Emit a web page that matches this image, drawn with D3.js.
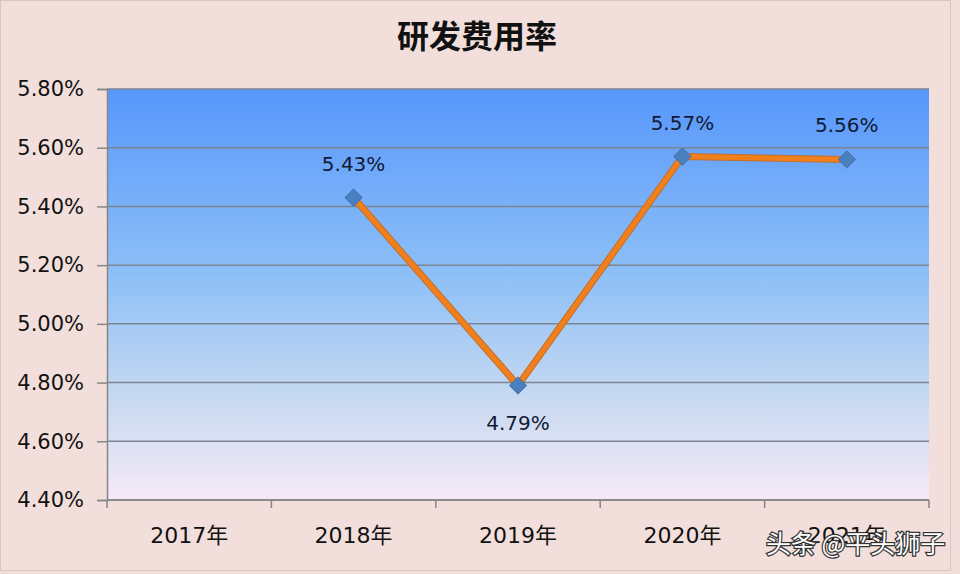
<!DOCTYPE html>
<html>
<head>
<meta charset="utf-8">
<script src="https://cdn.jsdelivr.net/npm/d3@7"></script>
<style>
  body { margin: 0; background: #f2dfdb; }
  svg { display: block; }
</style>
</head>
<body>
<svg id="chart"></svg>
<script>
const years = ['2017年', '2018年', '2019年', '2020年', '2021年'];
const rates = [null, 5.43, 4.79, 5.57, 5.56];
const labels = ['', '5.43%', '4.79%', '5.57%', '5.56%'];
const yTicks = [4.4, 4.6, 4.8, 5.0, 5.2, 5.4, 5.6, 5.8];

const width = 960;
const height = 574;
const margin = {top: 89, right: 31, bottom: 74, left: 107};
const innerW = width - margin.left - margin.right;
const innerH = height - margin.top - margin.bottom;

const svg = d3.select('#chart')
  .attr('width', width)
  .attr('height', height);

// outer background + frame
svg.append('rect')
  .attr('width', width).attr('height', height)
  .attr('fill', '#f2dfdb');
svg.append('rect')
  .attr('x', 0.5).attr('y', 0.5)
  .attr('width', 950).attr('height', 570)
  .attr('fill', 'none')
  .attr('stroke', '#d9c6c3');

const defs = svg.append('defs');
const grad = defs.append('linearGradient')
  .attr('id', 'plotbg')
  .attr('x1', 0).attr('y1', 0).attr('x2', 0).attr('y2', 1);
grad.append('stop').attr('offset', '0%').attr('stop-color', '#5797fc');
grad.append('stop').attr('offset', '45%').attr('stop-color', '#8dbff7');
grad.append('stop').attr('offset', '75%').attr('stop-color', '#c6d9f1');
grad.append('stop').attr('offset', '100%').attr('stop-color', '#f6e9f7');

const x = d3.scaleBand()
  .domain(years)
  .range([0, innerW]);

const y = d3.scaleLinear()
  .domain([4.4, 5.8])
  .range([innerH, 0]);

const g = svg.append('g')
  .attr('transform', 'translate(' + margin.left + ',' + margin.top + ')');

g.append('rect')
  .attr('width', innerW).attr('height', innerH)
  .attr('fill', 'url(#plotbg)');

// gridlines
g.append('g')
  .selectAll('line')
  .data(yTicks)
  .join('line')
  .attr('x1', 0).attr('x2', innerW)
  .attr('y1', d => y(d)).attr('y2', d => y(d))
  .attr('stroke', '#7d8591')
  .attr('stroke-width', 1.5);

// y axis
const yAxis = d3.axisLeft(y)
  .tickValues(yTicks)
  .tickSize(10)
  .tickPadding(13)
  .tickFormat(d => d.toFixed(2) + '%');

const yg = g.append('g').call(yAxis);
yg.select('.domain').attr('stroke', '#868686').attr('stroke-width', 1.5);
yg.selectAll('.tick line').attr('stroke', '#868686').attr('stroke-width', 1.5);
yg.selectAll('.tick text')
  .attr('fill', '#111')
  .style('font-family', '"DejaVu Sans", "Noto Sans CJK SC", sans-serif')
  .style('font-size', '21px');

// x axis: ticks at band boundaries
const bounds = years.map(d => x(d)).concat([innerW]);
const xg = g.append('g').attr('transform', 'translate(0,' + innerH + ')');
xg.append('line')
  .attr('x1', 0).attr('x2', innerW)
  .attr('stroke', '#868686').attr('stroke-width', 1.5);
xg.selectAll('.xt')
  .data(bounds)
  .join('line')
  .attr('class', 'xt')
  .attr('x1', d => d).attr('x2', d => d)
  .attr('y1', 0).attr('y2', 8)
  .attr('stroke', '#868686').attr('stroke-width', 1.5);
xg.selectAll('text')
  .data(years)
  .join('text')
  .attr('x', d => x(d) + x.bandwidth() / 2)
  .attr('y', 43)
  .attr('text-anchor', 'middle')
  .attr('fill', '#111')
  .style('font-family', '"DejaVu Sans", "Noto Sans CJK SC", sans-serif')
  .style('font-size', '22px')
  .text(d => d);

// series
const pts = years.map((d, i) => ({year: d, value: rates[i], label: labels[i]}))
  .filter(d => d.value !== null);

const line = d3.line()
  .x(d => x(d.year) + x.bandwidth() / 2)
  .y(d => y(d.value));

g.append('path')
  .datum(pts)
  .attr('fill', 'none')
  .attr('stroke', '#c0702e')
  .attr('stroke-width', 7)
  .attr('stroke-linejoin', 'round')
  .attr('d', line);
g.append('path')
  .datum(pts)
  .attr('fill', 'none')
  .attr('stroke', '#f07f1c')
  .attr('stroke-width', 5)
  .attr('stroke-linejoin', 'round')
  .attr('d', line);

g.selectAll('.marker')
  .data(pts)
  .join('path')
  .attr('class', 'marker')
  .attr('transform', d => 'translate(' + (x(d.year) + x.bandwidth() / 2) + ',' + y(d.value) + ')')
  .attr('d', d3.symbol().type(d3.symbolDiamond2).size(190))
  .attr('fill', '#4a80c0')
  .attr('stroke', '#3f6fa8')
  .attr('stroke-width', 1);

g.selectAll('.lbl')
  .data(pts)
  .join('text')
  .attr('class', 'lbl')
  .attr('x', d => x(d.year) + x.bandwidth() / 2)
  .attr('y', d => d.year === '2019年' ? y(d.value) + 44 : y(d.value) - 27)
  .attr('text-anchor', 'middle')
  .attr('fill', '#111a33')
  .style('font-family', '"DejaVu Sans", sans-serif')
  .style('font-size', '20px')
  .text(d => d.label);

// title
svg.append('text')
  .attr('x', 477)
  .attr('y', 48)
  .attr('text-anchor', 'middle')
  .attr('fill', '#111')
  .style('font-family', '"Noto Sans CJK SC", sans-serif')
  .style('font-weight', 'bold')
  .style('font-size', '32px')
  .text('研发费用率');

// watermark
svg.append('text')
  .attr('x', 766)
  .attr('y', 553)
  .attr('fill', '#fff')
  .attr('stroke', '#333')
  .attr('stroke-width', 2.5)
  .attr('paint-order', 'stroke')
  .style('font-family', '"Noto Sans CJK SC", sans-serif')
  .style('font-size', '25px')
  .text('头条 @平头狮子');
</script>
</body>
</html>
